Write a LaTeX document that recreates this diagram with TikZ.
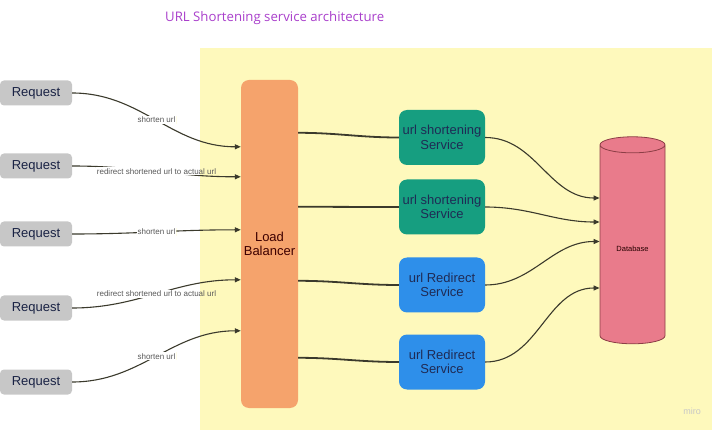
\documentclass[tikz,border=0pt]{standalone}
\usepackage{fontspec}
\setmainfont{Liberation Sans}
\newfontfamily\titlefont{Open Sans}
\usetikzlibrary{arrows.meta}
\usetikzlibrary{calc}
\usetikzlibrary{shapes.geometric}

\definecolor{boardyellow}{HTML}{FEF9BC}
\definecolor{reqgray}{HTML}{C7C7C7}
\definecolor{lborange}{HTML}{F5A36C}
\definecolor{svcgreen}{HTML}{169E80}
\definecolor{svcblue}{HTML}{2E8FEA}
\definecolor{dbpink}{HTML}{E97B8B}
\definecolor{dbedge}{HTML}{8C3E46}
\definecolor{wire}{HTML}{3B3A2C}
\definecolor{titlepurple}{HTML}{A93FCB}
\definecolor{navytext}{HTML}{1F2B55}

\tikzset{
  request/.style={rectangle, rounded corners=4pt, fill=reqgray, minimum width=72pt, minimum height=25pt, inner sep=0pt, font=\fontsize{13}{15}\selectfont, text=navytext!80!black},
  service/.style={rectangle, rounded corners=8pt, minimum width=86pt, minimum height=55pt, inner sep=0pt, align=center, font=\fontsize{13}{14.5}\selectfont, text=navytext},
  lbl/.style={inner sep=1pt, fill=white, font=\fontsize{8}{9}\selectfont, text=black!65,
    path picture={\fill[boardyellow] (board |- path picture bounding box.south) rectangle (path picture bounding box.north east);}},
  wirecurve/.style={draw=wire, line width=1.1pt, -{Triangle[length=6pt,width=5pt]}},
  lbwire/.style={draw=wire, line width=1.8pt},
}

\begin{document}
\begin{tikzpicture}[x=1pt,y=1pt]
        \useasboundingbox (0,0) rectangle (720,434);
        \fill[boardyellow] (200,4) rectangle (712,386);
        \coordinate (board) at (200,4);

        \node[font=\titlefont\fontsize{13.2}{15}\selectfont, text=titlepurple, anchor=west, inner sep=0pt] (title) at (165,416) {URL Shortening service architecture};

        \node[request] (r1) at (36,341) {Request};
        \node[request] (r2) at (36,268) {Request};
        \node[request] (r3) at (36,200) {Request};
        \node[request] (r4) at (36,126) {Request};
        \node[request] (r5) at (36,52) {Request};

        \node[rectangle, rounded corners=8pt, fill=lborange, minimum width=57pt, minimum height=328pt, inner sep=0pt, align=center, font=\fontsize{13}{14.5}\selectfont, text=black!60!red!60!black] (lb) at (269.5,190) {Load\\Balancer};

        \node[service, fill=svcgreen] (s1) at (442,296.5) {url shortening\\Service};
        \node[service, fill=svcgreen] (s2) at (442,227) {url shortening\\Service};
        \node[service, fill=svcblue] (s3) at (442,149) {url Redirect\\Service};
        \node[service, fill=svcblue] (s4) at (442,72) {url Redirect\\Service};

        \node[cylinder, shape border rotate=90, aspect=0.5, draw=dbedge, line width=0.8pt, fill=dbpink, minimum width=65pt, minimum height=207pt, inner sep=0pt, font=\fontsize{7.5}{8}\selectfont, text=black!70!red!50!black] (db) at (632.5,189.5) {\raisebox{-7pt}[0pt][0pt]{Database}};

        \node[font=\fontsize{9}{10}\selectfont, text=black!22] (miro) at (692,23) {miro};

        \draw[wirecurve] (r1.east) to[out=0, in=180] node[lbl] {shorten url} ($(lb.north west)+(0,-67)$);
        \draw[wirecurve] (r2.east) to[out=0, in=180] node[lbl] {redirect shortened url to actual url} ($(lb.north west)+(0,-97)$);
        \draw[wirecurve] (r3.east) to[out=0, in=180] node[lbl] {shorten url} ($(lb.north west)+(0,-150)$);
        \draw[wirecurve] (r4.east) to[out=0, in=180] node[lbl] {redirect shortened url to actual url} ($(lb.north west)+(0,-200)$);
        \draw[wirecurve] (r5.east) to[out=0, in=180] node[lbl] {shorten url} ($(lb.north west)+(0,-251)$);

        \draw[lbwire] ($(lb.north east)+(0,-53)$) to[out=0, in=180] (s1.west);
        \draw[lbwire] ($(lb.north east)+(0,-127)$) to[out=0, in=180] (s2.west);
        \draw[lbwire] ($(lb.north east)+(0,-201)$) to[out=0, in=180] (s3.west);
        \draw[lbwire] ($(lb.north east)+(0,-278)$) to[out=0, in=180] (s4.west);

        \draw[wirecurve] (s1.east) to[out=0, in=180] ([yshift=46.5pt]db.west);
        \draw[wirecurve] (s2.east) to[out=0, in=180] ([yshift=22.5pt]db.west);
        \draw[wirecurve] (s3.east) to[out=0, in=180] ([yshift=3pt]db.west);
        \draw[wirecurve] (s4.east) to[out=0, in=180] ([yshift=-43.5pt]db.west);
\end{tikzpicture}
\end{document}
